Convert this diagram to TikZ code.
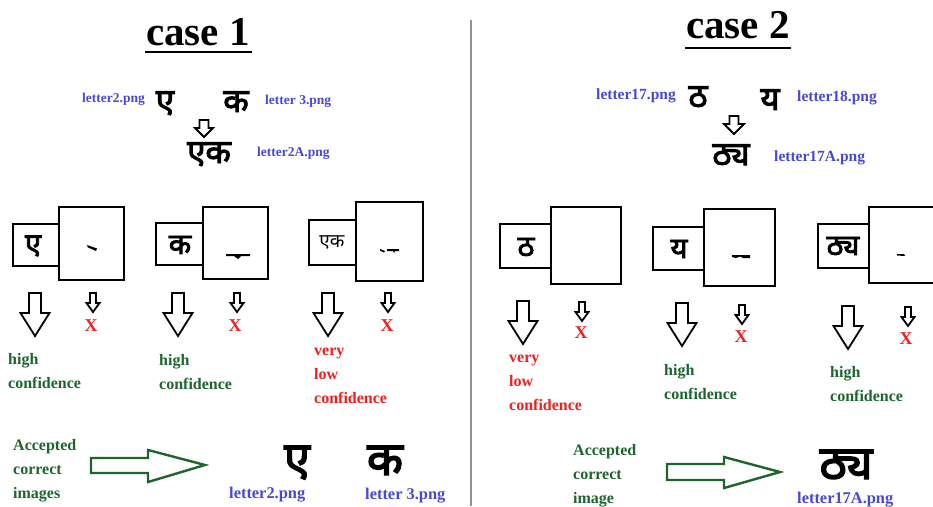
\documentclass[tikz,border=0pt]{standalone}
\usepackage{fontspec}
\setmainfont{Liberation Serif}
\newfontfamily\devfont[Script=Devanagari]{Noto Sans}
\newfontfamily\devfontb[Script=Devanagari,FakeBold=3]{Noto Sans}
\definecolor{lblue}{RGB}{72,72,214}
\definecolor{dgreen}{RGB}{30,100,45}
\definecolor{lred}{RGB}{240,30,30}
\newcommand\hdarrow[6]{%
  \draw[arrowline] (#1-#3,#2) -- (#1+#3,#2) -- (#1+#3,#5) -- (#1+#4,#5) -- (#1,#6) -- (#1-#4,#5) -- (#1-#3,#5) -- cycle;}
\newcommand\bigdown[2]{\hdarrow{#1}{#2}{6}{14.5}{#2+20}{#2+43}}
\newcommand\smalldown[2]{\hdarrow{#1}{#2}{3}{6.5}{#2+10}{#2+19}}
\begin{document}
\begin{tikzpicture}[x=1pt,y=-1pt,
  arrowline/.style={draw=black,line width=1.8pt,line join=miter},
  garrow/.style={draw=dgreen,line width=2.4pt,line join=miter},
  boxline/.style={draw=black,line width=1.8pt},
  title/.style={font=\fontsize{41}{41}\selectfont\bfseries,inner sep=0pt,anchor=base},
  blab/.style={font=\fontsize{13.5}{14}\selectfont\bfseries,text=lblue,inner sep=0pt,anchor=base west},
  blabb/.style={font=\fontsize{15.5}{16}\selectfont\bfseries,text=lblue,inner sep=0pt,anchor=base west},
  blabc/.style={font=\fontsize{16.4}{17}\selectfont\bfseries,text=lblue,inner sep=0pt,anchor=base west},
  glab/.style={font=\fontsize{16}{16}\selectfont\bfseries,text=dgreen,inner sep=0pt,anchor=base west},
  rlab/.style={font=\fontsize{16}{16}\selectfont\bfseries,text=lred,inner sep=0pt,anchor=base west},
  xmark/.style={font=\fontsize{18}{18}\selectfont\bfseries,text=lred,inner sep=0pt},
  dev/.style={font=\devfontb\fontsize{33}{33}\selectfont,inner sep=0pt,anchor=base,text depth=0pt},
  devbig/.style={font=\devfontb\fontsize{47}{47}\selectfont,inner sep=0pt,anchor=base,text depth=0pt},
  devbox/.style={font=\devfontb\fontsize{29}{29}\selectfont,inner sep=0pt},
  devsmall/.style={font=\devfont\fontsize{19}{19}\selectfont,inner sep=0pt}
]
\useasboundingbox (0,0) rectangle (933,506);
% divider
\draw[draw=gray!85,line width=2.6pt] (471,20) -- (471,506);

%================ CASE 1 =================
\node[title] (t1) at (198,45) {case 1};
\draw[line width=2.2pt] (145,52) -- (252,52);

\node[blab] (l2) at (82,102) {letter2.png};
\node[dev] (e1) at (165,112) {ए};
\node[dev] (k1) at (236,112) {क};
\node[blab] (l3) at (265,104) {letter 3.png};
\hdarrow{204}{120}{4.5}{9}{128}{137}
\node[dev] (ek1) at (209,163) {एक};
\node[blab] (l2a) at (257,156) {letter2A.png};

% boxes
\draw[boxline] (13,224) rectangle (59,266);
\draw[boxline] (59,207) rectangle (124,280);
\node[devbox] (b1) at (33,246) {ए};
\fill (87,245) -- (97,248.5) -- (96,251) -- (88,247.5) -- cycle;

\draw[boxline] (156,223) rectangle (203,265);
\draw[boxline] (203,207) rectangle (268,279);
\node[devbox] (b2) at (180,245) {क};
\fill (226,254) -- (250,254) -- (250,256) -- (241,256) -- (238,259) -- (234,256) -- (226,256) -- cycle;

\draw[boxline] (309,220) rectangle (356,265);
\draw[boxline] (356,202) rectangle (423,281);
\node[devsmall] (b3) at (332,242) {एक};
\fill (380,249) -- (385,251) -- (384,252.5) -- (380,250.5) -- cycle;
\fill (387,249) -- (399,249) -- (399,251) -- (395,251) -- (394,253) -- (393,251) -- (387,251) -- cycle;

% arrows
\bigdown{35}{293}
\smalldown{93}{293}
\node[xmark] (x1) at (91,326) {X};
\bigdown{178}{293}
\smalldown{237}{293}
\node[xmark] (x2) at (235,326) {X};
\bigdown{328}{293}
\smalldown{388}{293}
\node[xmark] (x3) at (387,326) {X};

% confidence labels
\node[glab] (h1a) at (8,364) {high};
\node[glab] (h1b) at (8,388) {confidence};
\node[glab] (h2a) at (159,365) {high};
\node[glab] (h2b) at (159,389) {confidence};
\node[rlab] (v3a) at (314,355) {very};
\node[rlab] (v3b) at (314,379) {low};
\node[rlab] (v3c) at (314,403) {confidence};

% accepted
\node[glab] (a1a) at (13,450) {Accepted};
\node[glab] (a1b) at (13,474) {correct};
\node[glab] (a1c) at (13,498) {images};
\draw[garrow] (91,458) -- (148,458) -- (148,450) -- (205,465) -- (148,482) -- (148,473) -- (91,473) -- cycle;
\node[devbig] (e2) at (297,475) {ए};
\node[devbig] (k2) at (385,475) {क};
\node[blabc] (l2b) at (229,498) {letter2.png};
\node[blabc] (l3b) at (365,499) {letter 3.png};

%================ CASE 2 =================
\node[title] (t2) at (738,38) {case 2};
\draw[line width=2.2pt] (685,48) -- (791,48);

\node[blabb] (l17) at (596,99) {letter17.png};
\node[dev] (th1) at (698,107) {ठ};
\node[dev] (y1) at (770,110) {य};
\node[blabb] (l18) at (797,101) {letter18.png};
\hdarrow{734}{116}{4.5}{10}{124}{134}
\node[dev] (thy1) at (731,165) {ठ्य};
\node[blabb] (l17a) at (774,161) {letter17A.png};

% boxes
\draw[boxline] (500,224) rectangle (551,268);
\draw[boxline] (551,207) rectangle (621,284);
\node[devbox] (c1) at (526,247) {ठ};

\draw[boxline] (653,227) rectangle (704,270);
\draw[boxline] (704,209) rectangle (775,286);
\node[devbox] (c2) at (679,249) {य};
\fill (732,255) -- (750,255) -- (750,258) -- (743,258) -- (740,256.5) -- (736,258) -- (732,257) -- cycle;

\draw[boxline] (818,224) rectangle (869,268);
\draw[boxline] (869,207) rectangle (940,283);
\node[devbox] (c3) at (843,246) {ठ्य};
\fill (897,254) -- (904,254) -- (905,256) -- (897,255.5) -- cycle;

% arrows
\bigdown{523}{301}
\smalldown{582}{302}
\node[xmark] (x4) at (581,333) {X};
\bigdown{682}{303}
\smalldown{742}{305}
\node[xmark] (x5) at (741,337) {X};
\bigdown{848}{306}
\smalldown{908}{307}
\node[xmark] (x6) at (906,339) {X};

% labels
\node[rlab] (v4a) at (509,362) {very};
\node[rlab] (v4b) at (509,386) {low};
\node[rlab] (v4c) at (509,410) {confidence};
\node[glab] (h5a) at (664,375) {high};
\node[glab] (h5b) at (664,399) {confidence};
\node[glab] (h6a) at (830,377) {high};
\node[glab] (h6b) at (830,401) {confidence};

% accepted
\node[glab] (a2a) at (573,455) {Accepted};
\node[glab] (a2b) at (573,479) {correct};
\node[glab] (a2c) at (573,503) {image};
\draw[garrow] (667,464) -- (724,464) -- (724,457) -- (780,472) -- (724,488) -- (724,480) -- (667,480) -- cycle;
\node[devbig] (thy2) at (846,479) {ठ्य};
\node[blabc] (l17b) at (797,503) {letter17A.png};
\end{tikzpicture}
\end{document}
